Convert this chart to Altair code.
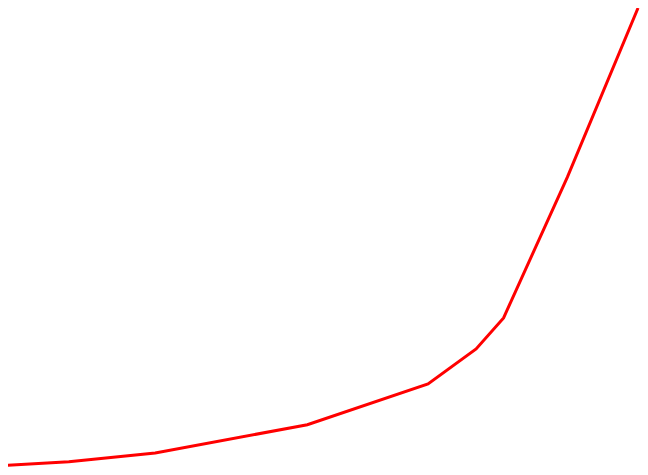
import altair as alt
import pandas as pd

# values (arbitrary units)
x_vals = [0, 6.7, 15.5, 31.0, 43.3, 48.2, 51.0, 57.5, 64.7]
y_vals = [0.2, 0.6, 1.5, 4.4, 8.6, 12.2, 15.4, 29.9, 47.3]

df = pd.DataFrame({"x": x_vals, "y": y_vals})

chart = alt.Chart(df).mark_line(
    color="#ff0000", strokeWidth=3, clip=False
).encode(
    x=alt.X("x:Q", axis=None, scale=alt.Scale(domain=[0.5, 64.9], nice=False, zero=False)),
    y=alt.Y("y:Q", axis=None, scale=alt.Scale(domain=[0.05, 47.3], nice=False, zero=False)),
).properties(
    width=632,
    height=459,
    padding=0,
    autosize=alt.AutoSizeParams(type="none"),
).configure_view(
    stroke=None
)

chart.save("out.html", embed_options={"renderer": "svg", "actions": False})
